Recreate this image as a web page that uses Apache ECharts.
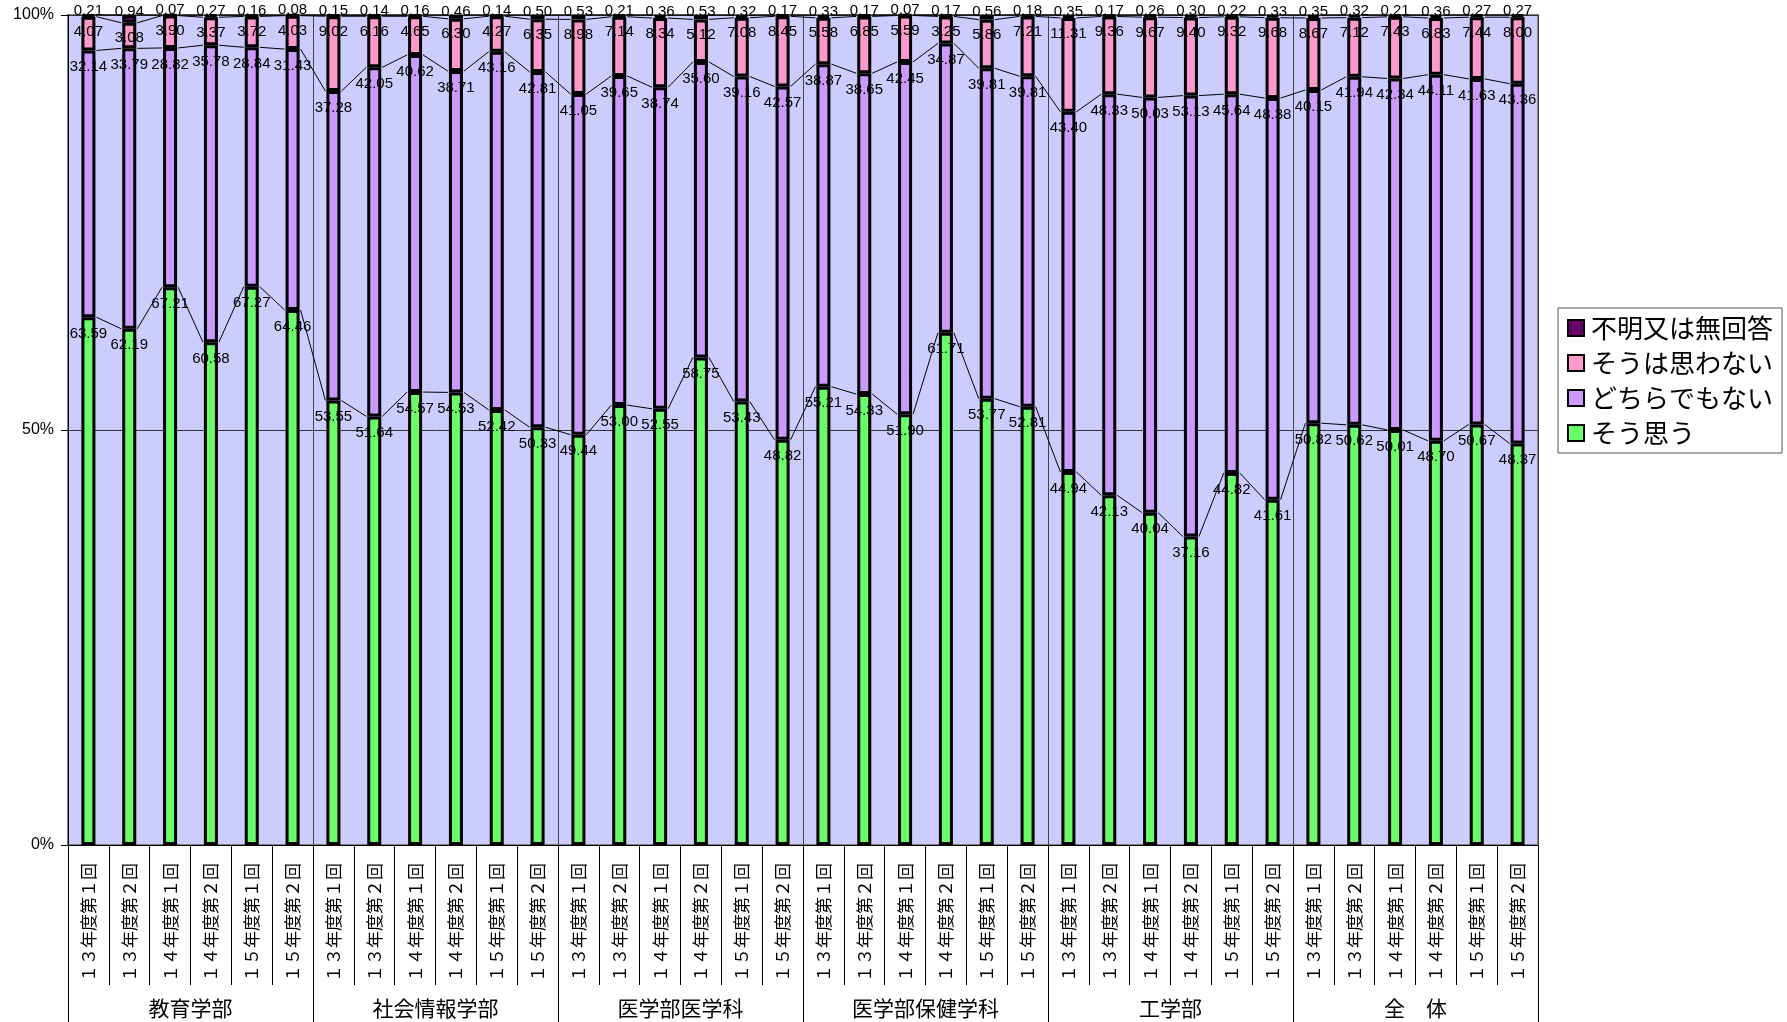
<!DOCTYPE html>
<html><head><meta charset="utf-8">
<script src="https://cdn.jsdelivr.net/npm/echarts@6/dist/echarts.min.js"></script>
<style>html,body{margin:0;padding:0;background:#fff}#c{width:1787px;height:1022px}</style>
</head><body><div id="c"></div>
<script>
const periods = ['１３年度第１回','１３年度第２回','１４年度第１回','１４年度第２回','１５年度第１回','１５年度第２回'];
const groups = ['教育学部','社会情報学部','医学部医学科','医学部保健学科','工学部','全　体'];
const agree = [63.59,62.19,67.21,60.58,67.27,64.46, 53.55,51.64,54.57,54.53,52.42,50.33, 49.44,53.00,52.55,58.75,53.43,48.82, 55.21,54.33,51.90,61.71,53.77,52.81, 44.94,42.13,40.04,37.16,44.82,41.61, 50.82,50.62,50.01,48.70,50.67,48.37];
const neutral = [32.14,33.79,28.82,35.78,28.84,31.43, 37.28,42.05,40.62,38.71,43.16,42.81, 41.05,39.65,38.74,35.60,39.16,42.57, 38.87,38.65,42.45,34.87,39.81,39.81, 43.40,48.33,50.03,53.13,45.64,48.38, 40.15,41.94,42.34,44.11,41.63,43.36];
const disagree = [4.07,3.08,3.90,3.37,3.72,4.03, 9.02,6.16,4.65,6.30,4.27,6.35, 8.98,7.14,8.34,5.12,7.08,8.45, 5.58,6.85,5.59,3.25,5.86,7.21, 11.31,9.36,9.67,9.40,9.32,9.68, 8.67,7.12,7.43,6.83,7.44,8.00];
const unknown = [0.21,0.94,0.07,0.27,0.16,0.08, 0.15,0.14,0.16,0.46,0.14,0.50, 0.53,0.21,0.36,0.53,0.32,0.17, 0.33,0.17,0.07,0.17,0.56,0.18, 0.35,0.17,0.26,0.30,0.22,0.33, 0.35,0.32,0.21,0.36,0.27,0.27];
const yTicks = [0, 50, 100];

const categories = [];
groups.forEach(() => periods.forEach(p => categories.push(p)));
const N = categories.length;
const c1 = agree.map((v,i)=>v);
const c2 = agree.map((v,i)=>v+neutral[i]);
const c3 = agree.map((v,i)=>v+neutral[i]+disagree[i]);
const c4 = agree.map((v,i)=>v+neutral[i]+disagree[i]+unknown[i]);
const levels = [c1,c2,c3,c4];

const BW = 14;
const numFont = "'Liberation Sans', Arial, sans-serif";
const jpFont = "'Noto Sans CJK JP', sans-serif";
const fmt = p => Number(p.value).toFixed(2);

function barSeries(name, data, color, labelPos, dist) {
  return {
    name, type: 'bar', stack: 'all', data, barWidth: BW,
    itemStyle: { color, borderColor: '#000', borderWidth: 3 },
    label: { show: true, position: labelPos, distance: dist, formatter: fmt,
      fontFamily: numFont, fontSize: 15, color: '#000' },
    emphasis: { disabled: true }, animation: false
  };
}

const chart = echarts.init(document.getElementById('c'), null, { renderer: 'canvas' });
chart.setOption({
  animation: false,
  backgroundColor: '#fff',
  grid: { left: 68, right: 249, top: 15, bottom: 177, show: true,
    backgroundColor: '#ccccff', borderColor: '#808080', borderWidth: 2 },
  legend: {
    data: ['不明又は無回答','そうは思わない','どちらでもない','そう思う'],
    orient: 'vertical', left: 1558, top: 308, padding: [7, 9, 7, 9], itemGap: 9,
    itemWidth: 16, itemHeight: 16, icon: 'rect',
    itemStyle: { borderColor: '#000', borderWidth: 2 },
    backgroundColor: '#fff', borderColor: '#555', borderWidth: 1,
    textStyle: { fontFamily: jpFont, fontSize: 26, color: '#000', padding: [0,0,0,2] }
  },
  xAxis: [
    { type: 'category', data: categories, position: 'bottom',
      axisLine: { show: true, lineStyle: { color: '#000', width: 1 } },
      axisTick: { show: true, interval: 0, length: 140, lineStyle: { color: '#000', width: 1 } },
      axisLabel: { interval: 0, rotate: 90, margin: 18, fontFamily: jpFont, fontSize: 17, color: '#000' },
      splitLine: { show: false } },
    { type: 'category', data: groups, position: 'bottom', offset: 0,
      axisLine: { show: false },
      axisTick: { show: true, interval: 0, length: 182, lineStyle: { color: '#000', width: 1 } },
      axisLabel: { interval: 0, margin: 153, fontFamily: jpFont, fontSize: 21, color: '#000' },
      splitLine: { show: true, interval: 0, lineStyle: { color: '#444', width: 1 } } }
  ],
  yAxis: {
    type: 'value', min: yTicks[0], max: yTicks[yTicks.length-1], interval: yTicks[1]-yTicks[0],
    axisLine: { show: true, lineStyle: { color: '#000', width: 1 } },
    axisTick: { show: true, length: 7, lineStyle: { color: '#000' } },
    axisLabel: { formatter: '{value}%', fontFamily: numFont, fontSize: 16, color: '#000', margin: 14 },
    splitLine: { show: true, lineStyle: { color: '#333', width: 1 } }
  },
  series: [
    barSeries('そう思う', agree, '#66ff66', 'insideTop', 9),
    barSeries('どちらでもない', neutral, '#cc99ff', 'insideTop', 9),
    barSeries('そうは思わない', disagree, '#ff99cc', 'insideTop', 8),
    barSeries('不明又は無回答', unknown, '#660066', 'top', -4),
    {
      type: 'custom', name: 'serieslines', silent: true, z: 1,
      data: categories.map((c,i) => [i, 0]),
      encode: { x: 0, y: 1 },
      renderItem: function (params, api) {
        const i = api.value(0);
        if (i >= N - 1) return null;
        const xa = api.coord([i, 0])[0] + BW/2 + 1;
        const xb = api.coord([i+1, 0])[0] - BW/2 - 1;
        return { type: 'group', children: levels.map(L => ({
          type: 'line',
          shape: { x1: xa, y1: api.coord([i, L[i]])[1], x2: xb, y2: api.coord([i+1, L[i+1]])[1] },
          style: { stroke: '#000', lineWidth: 1 }
        })) };
      }
    }
  ]
});
</script></body></html>
